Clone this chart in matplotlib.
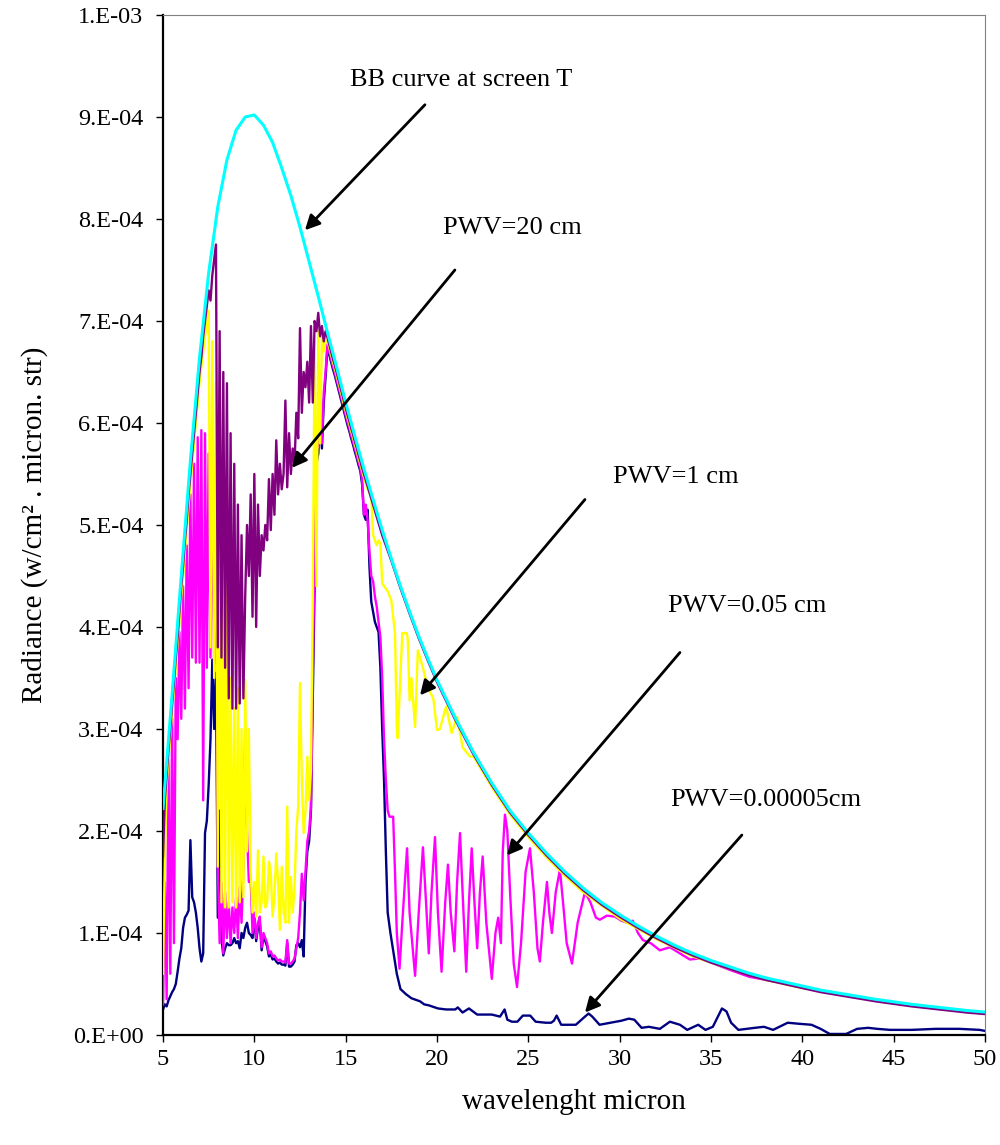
import numpy as np
import matplotlib
matplotlib.use('Agg')
import matplotlib.pyplot as plt

plt.rcParams['font.family'] = ['Liberation Serif', 'DejaVu Serif']

# radiance values below are in units of 1e-4 W/cm2/micron/sr
# 5..17 micron part is read on a 0.1 micron grid
fine_wl = np.round(np.arange(5.0, 17.01, 0.1), 1)

# BB curve at screen T
bb_wl = [5, 5.5, 6, 6.5, 7, 7.5, 8, 8.5, 9, 9.5, 10, 10.5, 11, 11.5, 12, 12.5,
         13, 13.5, 14, 14.5, 15, 15.5, 16, 16.5, 17, 17.5, 18, 18.5, 19, 19.5,
         20, 21, 22, 23, 24, 25, 26, 27, 28, 29, 30, 31, 32, 33, 34, 35, 36,
         37, 38, 39, 40, 41, 42, 43, 44, 45, 46, 47, 48, 49, 50]
bb_rad = [2.22, 3.34, 4.50, 5.63, 6.64, 7.47, 8.12, 8.58, 8.87, 9.00, 9.02, 8.92,
          8.75, 8.50, 8.23, 7.92, 7.58, 7.24, 6.89, 6.55, 6.20, 5.87, 5.55, 5.25,
          4.95, 4.67, 4.40, 4.15, 3.91, 3.69, 3.48, 3.11, 2.77, 2.47, 2.20, 1.98,
          1.78, 1.60, 1.44, 1.30, 1.18, 1.07, 0.97, 0.88, 0.80, 0.73, 0.67, 0.61,
          0.56, 0.52, 0.48, 0.44, 0.41, 0.38, 0.35, 0.325, 0.30, 0.28, 0.26, 0.24,
          0.225]

# PWV = 20 cm
pwv20_fine = [1.75, 2.30, 2.55, 2.80, 3.00, 3.25, 3.45, 3.70, 3.90, 4.15,
              4.40, 4.60, 4.85, 5.05, 5.30, 5.50, 5.70, 5.90, 6.10, 6.30,
              6.50, 6.65, 6.85, 7.00, 7.15, 7.30, 7.20, 7.45, 7.60, 7.75,
              3.80, 6.90, 3.70, 6.50, 3.60, 6.39, 3.30, 5.90, 3.20, 5.60,
              3.20, 5.20, 3.25, 4.90, 3.30, 4.30, 5.00, 4.50, 5.30, 4.10,
              5.50, 4.00, 5.20, 4.50, 4.90, 4.75, 5.00, 4.85, 5.45, 4.95,
              5.50, 5.10, 5.83, 5.30, 5.60, 5.35, 5.50, 6.22, 5.37, 5.90,
              5.50, 5.75, 5.60, 6.10, 5.85, 6.93, 6.10, 6.50, 6.35, 6.60,
              6.20, 6.95, 6.20, 7.00, 6.90, 7.08, 6.85, 6.95, 6.80, 6.90,
              6.84, 6.77, 6.70, 6.63, 6.57, 6.50, 6.43, 6.36, 6.29, 6.22,
              6.15, 6.08, 6.02, 5.95, 5.89, 5.82, 5.76, 5.69, 5.63, 5.56,
              5.50, 5.44, 5.38, 5.32, 5.26, 5.20, 5.14, 5.08, 5.02, 4.96,
              4.90]
pwv20_tail_wl = [17.5, 18, 18.5, 19, 19.5, 20, 21, 22, 23, 24, 25, 26, 27, 28,
                 29, 30, 31, 32, 33, 34, 35, 36, 37, 38, 39, 40, 41, 42, 43, 44,
                 45, 46, 47, 48, 49, 50]
pwv20_tail = [4.65, 4.38, 4.13, 3.89, 3.67, 3.46, 3.09, 2.75, 2.45, 2.18, 1.96,
              1.76, 1.58, 1.42, 1.28, 1.16, 1.05, 0.95, 0.86, 0.78, 0.71, 0.65,
              0.59, 0.54, 0.50, 0.46, 0.42, 0.39, 0.36, 0.33, 0.305, 0.28, 0.26,
              0.24, 0.22, 0.205]

# PWV = 1 cm
pwv1_fine = [0.60, 1.70, 2.45, 2.70, 2.95, 3.15, 3.40, 3.60, 3.85, 4.05,
             4.30, 4.50, 4.75, 4.95, 5.20, 5.40, 5.60, 5.80, 6.00, 6.20,
             6.40, 6.55, 6.70, 6.85, 6.95, 7.10, 3.80, 6.80, 3.50, 6.40,
             1.65, 6.00, 1.30, 5.50, 1.25, 4.50, 1.25, 3.50, 1.30, 3.20,
             1.25, 3.40, 1.30, 3.00, 1.35, 3.48, 1.80, 3.00, 1.60, 1.20,
             1.50, 1.16, 1.81, 1.20, 1.30, 1.75, 1.25, 1.30, 1.70, 1.60,
             1.16, 1.35, 1.78, 1.50, 1.03, 1.65, 1.20, 1.10, 2.24, 1.10,
             1.55, 1.20, 1.45, 2.00, 2.24, 3.45, 2.50, 1.98, 2.20, 2.73,
             2.30, 2.60, 4.30, 6.80, 4.40, 6.90, 5.80, 6.85, 6.70, 6.80,
             6.81, 6.74, 6.67, 6.60, 6.54, 6.47, 6.40, 6.33, 6.26, 6.19,
             6.12, 6.05, 5.99, 5.92, 5.86, 5.79, 5.73, 5.66, 5.60, 5.53,
             5.47, 5.41, 5.35, 5.31, 5.30, 4.90, 4.85, 4.80, 4.85, 4.82,
             4.43]
pwv1_tail_wl = [17.1, 17.3, 17.5, 17.7, 17.8, 17.85, 18.1, 18.35, 18.4, 18.5,
                18.6, 18.8, 18.95, 19.23, 19.5, 19.8, 20.0, 20.16, 20.5, 20.8,
                21.1, 21.4, 21.8, 22, 23, 24, 25, 26, 27, 28, 30, 32, 34, 36,
                38, 40, 42, 44, 46, 48, 50]
pwv1_tail = [4.40, 4.35, 4.26, 3.94, 3.00, 2.91, 3.94, 3.94, 3.87, 3.28, 3.50,
             3.02, 3.77, 3.60, 3.40, 3.30, 2.99, 3.00, 3.22, 2.96, 3.12, 2.82,
             2.73, 2.73, 2.43, 2.16, 1.94, 1.74, 1.56, 1.40, 1.14, 0.94, 0.77,
             0.65, 0.54, 0.46, 0.40, 0.34, 0.29, 0.25, 0.21]

# PWV = 0.05 cm
pwv005_fine = [0.30, 1.50, 0.35, 2.70, 0.60, 3.10, 0.90, 3.50, 2.90, 3.95,
               3.10, 4.40, 3.20, 4.80, 3.40, 5.30, 3.70, 5.60, 3.65, 5.86,
               3.65, 5.93, 2.30, 5.90, 3.60, 5.70, 3.70, 5.55, 3.64, 5.50,
               1.65, 0.90, 1.50, 0.80, 1.40, 0.95, 1.30, 0.90, 1.25, 1.00,
               1.35, 0.95, 1.45, 1.10, 1.65, 3.00, 2.00, 1.50, 1.52, 1.00,
               1.20, 0.95, 1.10, 1.16, 0.86, 1.00, 0.95, 0.90, 0.80, 0.82,
               0.77, 0.78, 0.75, 0.73, 0.74, 0.72, 0.72, 0.71, 0.93, 0.70,
               0.70, 0.72, 0.75, 0.85, 0.95, 1.20, 1.58, 1.32, 1.60, 1.90,
               2.00, 2.24, 3.50, 4.80, 5.90, 5.76, 6.20, 5.80, 6.30, 6.50,
               6.77, 6.70, 6.63, 6.56, 6.50, 6.43, 6.36, 6.29, 6.22, 6.15,
               6.08, 6.01, 5.95, 5.88, 5.82, 5.75, 5.69, 5.62, 5.56, 5.45,
               5.10, 5.20, 5.05, 4.75, 4.50, 4.45, 4.30, 4.20, 4.05, 3.90,
               3.50]
pwv005_tail_wl = [17.1, 17.2, 17.3, 17.4, 17.6, 17.7, 17.8, 17.95, 18.1, 18.36,
                  18.5, 18.8, 19.0, 19.23, 19.4, 19.55, 19.7, 19.89, 20.05,
                  20.25, 20.45, 20.6, 20.75, 20.95, 21.1, 21.26, 21.45, 21.6,
                  21.75, 21.9, 22.05, 22.2, 22.35, 22.5, 22.7, 23.0, 23.2,
                  23.35, 23.5, 23.6, 23.72, 23.85, 24.0, 24.2, 24.38, 24.6,
                  24.85, 25.09, 25.3, 25.5, 25.63, 25.8, 26.02, 26.15, 26.29,
                  26.5, 26.73, 26.9, 27.1, 27.39, 27.7, 28.1, 28.4, 28.7, 28.92,
                  29.3, 29.74, 30.1, 30.4, 30.72, 31.0, 31.27, 31.7, 32.2,
                  32.75, 33.3, 33.84, 34.39, 35, 36, 37.1, 38, 38.9, 40, 41.7,
                  43, 45, 47, 50]
pwv005_tail = [2.90, 2.50, 2.20, 2.14, 2.14, 1.60, 1.00, 0.65, 1.10, 1.83,
               1.20, 0.58, 1.20, 1.84, 1.30, 0.80, 1.40, 1.94, 1.20, 0.62,
               1.30, 1.67, 1.20, 0.82, 1.50, 1.98, 1.20, 0.62, 1.30, 1.83,
               1.30, 0.85, 1.40, 1.75, 1.10, 0.55, 1.00, 1.15, 0.90, 1.80,
               2.16, 2.00, 1.40, 0.70, 0.47, 0.90, 1.60, 1.83, 1.40, 0.85,
               0.72, 1.10, 1.50, 1.20, 1.00, 1.40, 1.62, 1.30, 0.90, 0.70,
               1.10, 1.40, 1.30, 1.15, 1.13, 1.17, 1.16, 1.12, 1.10, 1.12,
               1.00, 0.93, 0.90, 0.83, 0.86, 0.80, 0.74, 0.75, 0.71, 0.64,
               0.57, 0.54, 0.51, 0.47, 0.41, 0.37, 0.31, 0.27, 0.22]

# PWV = 0.00005 cm
pwv5e5_fine = [0.25, 0.30, 0.28, 0.34, 0.38, 0.42, 0.45, 0.50, 0.62, 0.75,
               0.85, 1.05, 1.15, 1.18, 1.22, 1.91, 1.35, 1.30, 1.20, 1.05,
               0.85, 0.72, 0.80, 1.98, 2.10, 2.45, 2.90, 3.68, 3.00, 3.55,
               1.15, 2.20, 0.95, 0.78, 0.85, 0.90, 0.88, 0.88, 0.90, 0.95,
               0.90, 0.92, 0.85, 1.00, 0.95, 1.05, 1.10, 1.00, 0.98, 0.95,
               1.15, 0.92, 1.05, 1.10, 0.83, 0.97, 0.92, 0.87, 0.77, 0.79,
               0.74, 0.75, 0.72, 0.70, 0.71, 0.69, 0.69, 0.68, 0.90, 0.67,
               0.67, 0.69, 0.72, 0.88, 0.90, 0.86, 0.93, 0.77, 1.50, 1.80,
               1.90, 2.20, 3.30, 4.40, 5.60, 5.70, 6.10, 5.75, 6.20, 6.45,
               6.74, 6.67, 6.60, 6.53, 6.47, 6.40, 6.33, 6.26, 6.19, 6.12,
               6.05, 5.98, 5.92, 5.85, 5.79, 5.72, 5.66, 5.59, 5.53, 5.40,
               5.10, 5.05, 5.15, 4.60, 4.25, 4.15, 4.05, 4.00, 3.95, 3.60,
               3.00]
pwv5e5_tail_wl = [17.1, 17.2, 17.3, 17.45, 17.6, 17.8, 18.0, 18.3, 18.6, 19.07,
                  19.3, 19.56, 20.05, 20.5, 21.0, 21.14, 21.4, 21.75, 22.2,
                  23.0, 23.45, 23.7, 23.85, 24.1, 24.4, 24.7, 25.1, 25.4, 25.95,
                  26.25, 26.4, 26.55, 26.8, 27.6, 28.1, 28.3, 28.5, 28.9, 29.5,
                  30.1, 30.5, 30.8, 31.2, 31.6, 32.2, 32.75, 33.3, 33.7, 34.3,
                  34.7, 35.1, 35.6, 35.85, 36.1, 36.5, 37.4, 37.9, 38.4, 39.2,
                  39.8, 40.5, 41.0, 41.5, 42.4, 43.0, 43.6, 44.1, 44.8, 46.0,
                  47.3, 48.6, 49.7, 50.0]
pwv5e5_tail = [2.50, 1.80, 1.20, 1.00, 0.83, 0.60, 0.45, 0.40, 0.36, 0.33,
               0.30, 0.29, 0.26, 0.25, 0.25, 0.27, 0.22, 0.26, 0.20, 0.20,
               0.18, 0.25, 0.15, 0.13, 0.13, 0.19, 0.19, 0.13, 0.12, 0.12,
               0.14, 0.19, 0.10, 0.10, 0.18, 0.21, 0.18, 0.10, 0.12, 0.14,
               0.16, 0.15, 0.07, 0.08, 0.06, 0.13, 0.10, 0.05, 0.10, 0.05,
               0.08, 0.26, 0.23, 0.12, 0.05, 0.07, 0.08, 0.05, 0.12, 0.11,
               0.10, 0.06, 0.01, 0.01, 0.06, 0.07, 0.06, 0.05, 0.05, 0.06,
               0.06, 0.05, 0.04]

y_ticks = [0, 1e-4, 2e-4, 3e-4, 4e-4, 5e-4, 6e-4, 7e-4, 8e-4, 9e-4, 1e-3]
y_tick_labels = ['0.E+00', '1.E-04', '2.E-04', '3.E-04', '4.E-04', '5.E-04',
                 '6.E-04', '7.E-04', '8.E-04', '9.E-04', '1.E-03']
x_ticks = [5, 10, 15, 20, 25, 30, 35, 40, 45, 50]

# annotations: label, text position, arrow tail, arrow head
notes = [
    ('BB curve at screen T', (15.24, 9.36e-4), (19.34, 9.12e-4), (12.77, 7.89e-4)),
    ('PWV=20 cm', (20.33, 7.91e-4), (20.98, 7.50e-4), (12.06, 5.56e-4)),
    ('PWV=1 cm', (29.63, 5.47e-4), (28.10, 5.25e-4), (19.07, 3.33e-4)),
    ('PWV=0.05 cm', (32.64, 4.21e-4), (33.30, 3.75e-4), (23.83, 1.76e-4)),
    ('PWV=0.00005cm', (32.75, 2.30e-4), (36.69, 1.96e-4), (28.10, 0.22e-4)),
]


def series(fine, tail_wl, tail):
    x = np.concatenate([fine_wl, tail_wl])
    y = np.concatenate([fine, tail]) * 1e-4
    return x, y


fig = plt.figure(figsize=(10, 11.45), dpi=100)
ax = fig.add_axes([0.163, 0.0961, 0.822, 0.8908])

x, y = series(pwv5e5_fine, pwv5e5_tail_wl, pwv5e5_tail)
ax.plot(x, y, color='#000080', lw=1.7, zorder=2)
x, y = series(pwv005_fine, pwv005_tail_wl, pwv005_tail)
ax.plot(x, y, color='#FF00FF', lw=1.7, zorder=3)
x, y = series(pwv1_fine, pwv1_tail_wl, pwv1_tail)
ax.plot(x, y, color='#FFFF00', lw=1.7, zorder=4)
x, y = series(pwv20_fine, pwv20_tail_wl, pwv20_tail)
ax.plot(x, y, color='#800080', lw=1.7, zorder=5)
ax.plot(bb_wl, np.array(bb_rad) * 1e-4, color='#00FFFF', lw=2.2, zorder=6)

for label, txt, tail, head in notes:
    ax.text(txt[0], txt[1], label, fontsize=19, ha='left', va='center')
    ax.annotate('', xy=head, xytext=tail,
                arrowprops=dict(arrowstyle='-|>', color='black', lw=2,
                                mutation_scale=22, shrinkA=0, shrinkB=0),
                zorder=7)

ax.set_xlim(5, 50)
ax.set_ylim(0, 1e-3)
ax.set_xticks(x_ticks)
ax.set_yticks(y_ticks)
ax.set_yticklabels(y_tick_labels)

for side in ['left', 'bottom']:
    ax.spines[side].set_linewidth(1.6)
    ax.spines[side].set_color('black')
for side in ['top', 'right']:
    ax.spines[side].set_linewidth(0.8)
    ax.spines[side].set_color('#808080')

ax.tick_params(axis='both', direction='out', length=5, width=1,
               labelsize=17.5, colors='black')
ax.tick_params(axis='y', pad=9)
ax.tick_params(axis='x', pad=5)

fig.text(0.035, 1 - 525 / 1145, 'Radiance (w/cm² . micron. str)', rotation=90,
         ha='center', va='center', fontsize=21)
fig.text(0.574, 1 - 1102 / 1145, 'wavelenght micron', ha='center',
         va='center', fontsize=21)

fig.savefig('out.png', dpi=100)
